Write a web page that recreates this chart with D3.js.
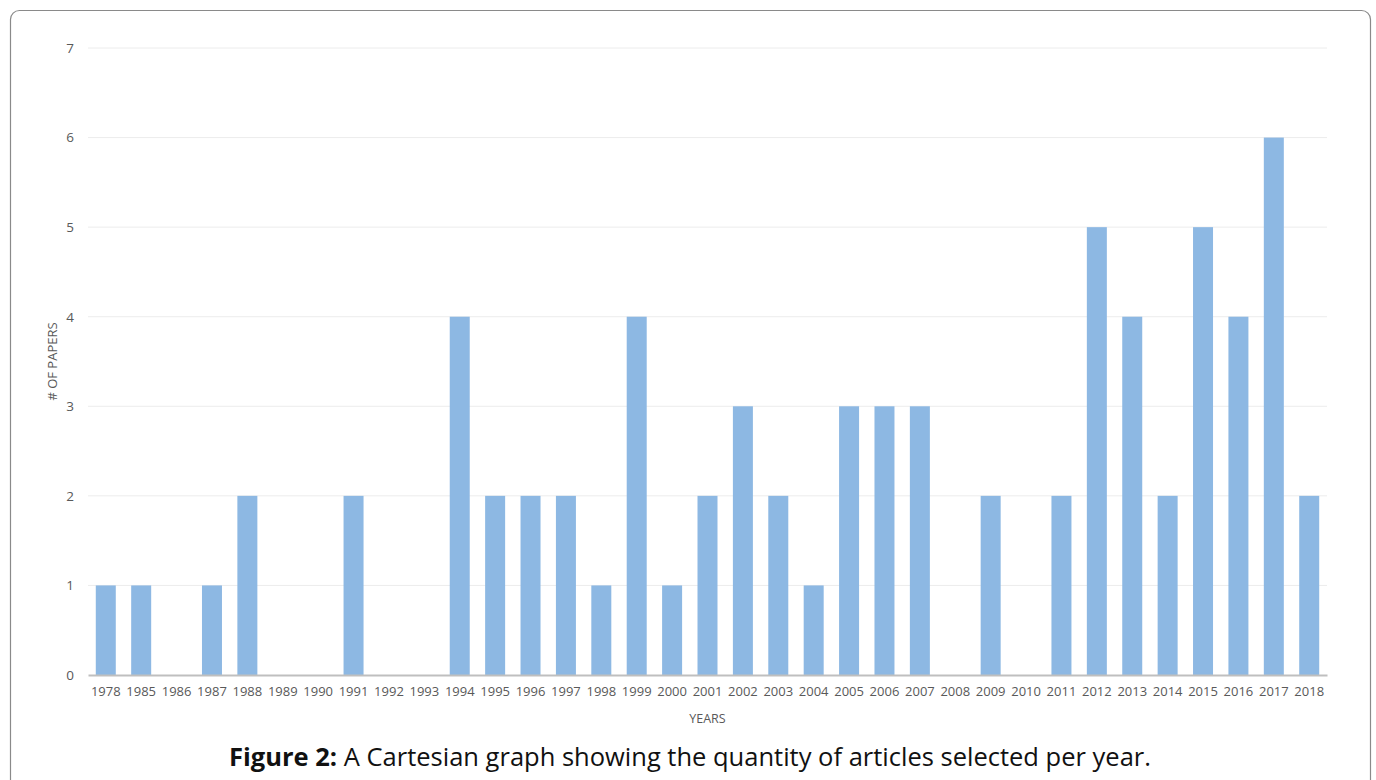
<!DOCTYPE html>
<html>
<head>
<meta charset="utf-8">
<script src="https://cdn.jsdelivr.net/npm/d3@7"></script>
<style>
  body { margin: 0; background: #fff; }
</style>
</head>
<body>
<div id="my_chart"></div>
<script>

// ======================= //
// DATA
// ======================= //

var years = ["1978","1985","1986","1987","1988","1989","1990","1991","1992","1993",
  "1994","1995","1996","1997","1998","1999","2000","2001","2002","2003","2004",
  "2005","2006","2007","2008","2009","2010","2011","2012","2013","2014","2015",
  "2016","2017","2018"]
var papers = [1,1,0,1,2,0,0,2,0,0,
  4,2,2,2,1,4,1,2,3,2,1,
  3,3,3,0,2,0,2,5,4,2,5,
  4,6,2]
var yTicks = [0,1,2,3,4,5,6,7]

// ======================= //
// SVG AREA
// ======================= //

var W = 1376, H = 780
var margin = {top: 48, right: 49, bottom: 105, left: 88},
    width = W - margin.left - margin.right,
    height = H - margin.top - margin.bottom

var svgRoot = d3.select("#my_chart")
  .append("svg")
    .attr("width", W)
    .attr("height", H)

// rounded frame around the figure
svgRoot.append("rect")
    .attr("x", 10.5)
    .attr("y", 10.5)
    .attr("width", 1360)
    .attr("height", 800)
    .attr("rx", 9)
    .style("fill", "none")
    .style("stroke", "#8a8a8a")
    .style("stroke-width", 1.2)

var svg = svgRoot.append("g")
    .attr("transform", "translate(" + margin.left + "," + margin.top + ")")

// ======================= //
// SCALES AND AXES
// ======================= //

var x = d3.scaleBand()
  .domain(years)
  .range([0, width])
  .paddingInner(0.435)
  .paddingOuter(0.22)

var y = d3.scaleLinear()
  .domain([0, 7])
  .range([height, 0])

// gridlines
svg.append("g")
  .selectAll("grid")
  .data(yTicks.filter(function(d){ return d > 0 }))
  .enter()
  .append("line")
    .attr("x1", 0)
    .attr("x2", width)
    .attr("y1", function(d){ return y(d) })
    .attr("y2", function(d){ return y(d) })
    .style("stroke", "#ececec")
    .style("stroke-width", 1)

// Y tick labels
svg.append("g")
  .call(d3.axisLeft(y).tickValues(yTicks).tickSize(0).tickPadding(14).tickFormat(d3.format("d")))
  .call(function(g){ g.select(".domain").remove() })
  .selectAll("text")
    .style("font-family", "'Open Sans', sans-serif")
    .style("font-size", "13.5px")
    .style("fill", "#595959")

// bars
svg.append("g")
  .selectAll("bar")
  .data(papers)
  .enter()
  .append("rect")
    .attr("x", function(d,i){ return x(years[i]) })
    .attr("y", function(d){ return y(d) })
    .attr("width", x.bandwidth())
    .attr("height", function(d){ return height - y(d) })
    .style("fill", "#8db8e3")

// X axis
var xAxis = svg.append("g")
  .attr("transform", "translate(0," + height + ")")
  .call(d3.axisBottom(x).tickSize(0).tickPadding(12))
xAxis.select(".domain")
  .style("stroke", "#bfbfbf")
  .style("stroke-width", 2)
xAxis.selectAll("text")
  .style("font-family", "'Open Sans', sans-serif")
  .style("font-size", "13px")
  .style("fill", "#595959")

// axis titles
svg.append("text")
  .attr("text-anchor", "middle")
  .attr("x", width / 2)
  .attr("y", height + 48)
  .style("font-family", "'Open Sans', sans-serif")
  .style("font-size", "12.5px")
  .style("fill", "#595959")
  .text("YEARS")

svg.append("text")
  .attr("text-anchor", "middle")
  .attr("transform", "translate(-31," + (height / 2) + ") rotate(-90)")
  .style("font-family", "'Open Sans', sans-serif")
  .style("font-size", "13px")
  .style("fill", "#595959")
  .text("# OF PAPERS")

// caption
var caption = svgRoot.append("text")
  .attr("text-anchor", "middle")
  .attr("x", 690)
  .attr("y", 766)
  .style("font-family", "'Open Sans', sans-serif")
  .style("font-size", "25.5px")
  .style("fill", "#111")
caption.append("tspan")
  .style("font-weight", "bold")
  .text("Figure 2:")
caption.append("tspan")
  .text(" A Cartesian graph showing the quantity of articles selected per year.")

</script>
</body>
</html>
